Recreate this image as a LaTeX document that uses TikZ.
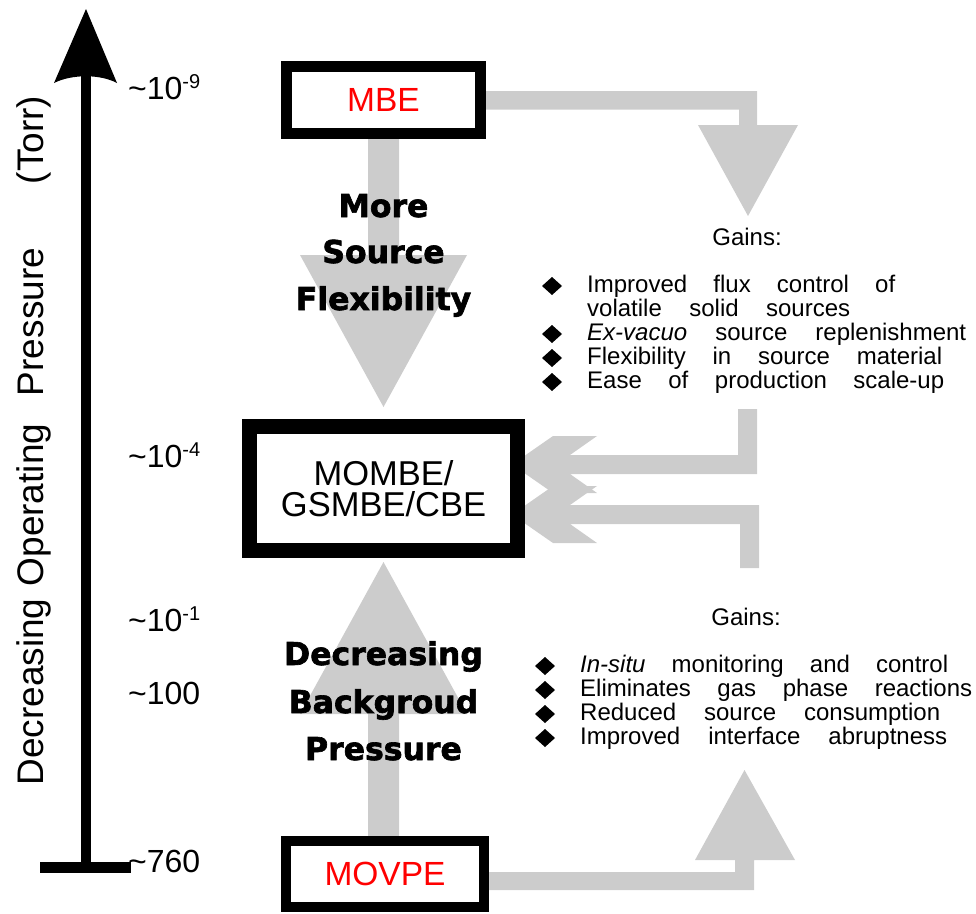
\documentclass[tikz,border=0pt]{standalone}
\usepackage{fontspec}
\setmainfont{Liberation Sans}
\newfontfamily\heavyfont{DejaVu Sans}[BoldFeatures={FakeBold=2}]
\definecolor{flowgray}{RGB}{204,204,204}
\definecolor{procred}{RGB}{255,0,0}
\newcommand\sups[1]{\raisebox{11pt}{\fontsize{20}{20}\selectfont #1}}
\newcommand\jline[2]{\makebox[#1pt][s]{#2}}
\begin{document}
\begin{tikzpicture}[x=1pt,y=-1pt,
  flow/.style={fill=flowgray, draw=none},
  procbox/.style={draw=black, fill=white, inner sep=0pt},
  proctext/.style={font=\fontsize{33.5}{33.5}\selectfont},
  tick/.style={anchor=base west, inner sep=0pt, font=\fontsize{32}{32}\selectfont},
  axistitle/.style={rotate=90, anchor=base, inner sep=0pt, font=\fontsize{37}{37}\selectfont},
  heavy/.style={anchor=base, inner sep=0pt, font=\heavyfont\bfseries\fontsize{31.5}{31.5}\selectfont},
  gains/.style={anchor=base, inner sep=0pt, font=\fontsize{24}{24}\selectfont},
  item/.style={anchor=base west, inner sep=0pt, font=\fontsize{24}{24}\selectfont},
  bul/.pic={\fill (-10,0) -- (0,-9) -- (10,0) -- (0,9) -- cycle;}
]
\useasboundingbox (0,0) rectangle (976,913);

% ---------- pressure axis ----------
\coordinate (axbot) at (86,862);
\coordinate (axtop) at (86,76);
\coordinate (barl) at (40,867.5);
\coordinate (barr) at (131,867.5);
\draw[line width=10.5] (axbot) -- (axtop);
\draw[line width=11] (barl) -- (barr);
\fill (86,9) -- (117,83) .. controls (100,74) and (72,74) .. (54,83) -- cycle;

\node[axistitle] (t1) at (43,692) {Decreasing};
\node[axistitle] (t2) at (43,505) {Operating};
\node[axistitle] (t3) at (43,322) {Pressure};
\node[axistitle] (t4) at (43,140) {(Torr)};

\node[tick] (p9) at (128,99) {\textasciitilde10\sups{-9}};
\node[tick] (p4) at (128,467) {\textasciitilde10\sups{-4}};
\node[tick] (p1) at (128,631) {\textasciitilde10\sups{-1}};
\node[tick] (p100) at (128,704) {\textasciitilde100};
\node[tick] (p760) at (128,872) {\textasciitilde760};

% ---------- gray flow arrows ----------
% MBE down to MOMBE
\path[flow] (368,135) -- (399,135) -- (399,255) -- (467,255) -- (383.5,407) -- (300,255) -- (368,255) -- cycle;
% MOVPE up to MOMBE
\path[flow] (368,840) -- (399,840) -- (399,714) -- (467,714) -- (383.5,562) -- (300,714) -- (368,714) -- cycle;
% MBE right then down
\path[flow] (480,91) -- (757,91) -- (757,125) -- (798,125) -- (748,216) -- (698,125) -- (739,125) -- (739,109.5) -- (480,109.5) -- cycle;
% MOVPE right then up
\path[flow] (480,890) -- (754,890) -- (754,860) -- (795,860) -- (744.5,770) -- (695,860) -- (735,860) -- (735,872) -- (480,872) -- cycle;
% upper left-pointing arrow into MOMBE
\path[flow] (757,409) -- (757,474) -- (570,474) -- (597,493) -- (553,493) -- (512,464.5) -- (553,436) -- (597,436) -- (570,455) -- (738,455) -- (738,409) -- cycle;
% lower left-pointing arrow into MOMBE
\path[flow] (759,505) -- (759,568) -- (740,568) -- (740,524) -- (570,524) -- (597,543) -- (553,543) -- (512,514.5) -- (553,486) -- (597,486) -- (570,505) -- cycle;

% ---------- process boxes ----------
\node[procbox, line width=11, minimum width=194, minimum height=67.5, proctext, text=procred] (mbe) at (383.5,99.75) {MBE};
\node[procbox, line width=15, minimum width=268, minimum height=124, align=center, font=\fontsize{34.5}{31}\selectfont] (mombe) at (383.5,488.5) {MOMBE/\\GSMBE/CBE};
\node[procbox, line width=10, minimum width=198, minimum height=66, proctext, text=procred] (movpe) at (385,874) {MOVPE};

% ---------- bold labels ----------
\node[heavy] (m1) at (383.5,217) {More};
\node[heavy] (m2) at (383.5,263) {Source};
\node[heavy] (m3) at (383.5,310) {Flexibility};
\node[heavy] (d1) at (383.5,665) {Decreasing};
\node[heavy] (d2) at (383.5,713) {Backgroud};
\node[heavy] (d3) at (383.5,760) {Pressure};

% ---------- gains (top) ----------
\node[gains] (g1) at (747,245) {Gains:};
\node[item] (a1) at (587,292) {\jline{308}{Improved flux control of}};
\node[item] (a2) at (587,316) {\jline{263}{volatile solid sources}};
\node[item] (a3) at (587,340) {\jline{379}{\textit{Ex-vacuo} source replenishment}};
\node[item] (a4) at (587,364) {\jline{355}{Flexibility in source material}};
\node[item] (a5) at (587,388) {\jline{357}{Ease of production scale-up}};
\pic at (552,286) {bul};
\pic at (552,334) {bul};
\pic at (552,358) {bul};
\pic at (552,382) {bul};

% ---------- gains (bottom) ----------
\node[gains] (g2) at (746,625) {Gains:};
\node[item] (b1) at (580,672) {\jline{368}{\textit{In-situ} monitoring and control}};
\node[item] (b2) at (580,696) {\jline{392}{Eliminates gas phase reactions}};
\node[item] (b3) at (580,720) {\jline{360}{Reduced source consumption}};
\node[item] (b4) at (580,744) {\jline{367}{Improved interface abruptness}};
\pic at (545,666) {bul};
\pic at (545,690) {bul};
\pic at (545,714) {bul};
\pic at (545,738) {bul};
\end{tikzpicture}
\end{document}
